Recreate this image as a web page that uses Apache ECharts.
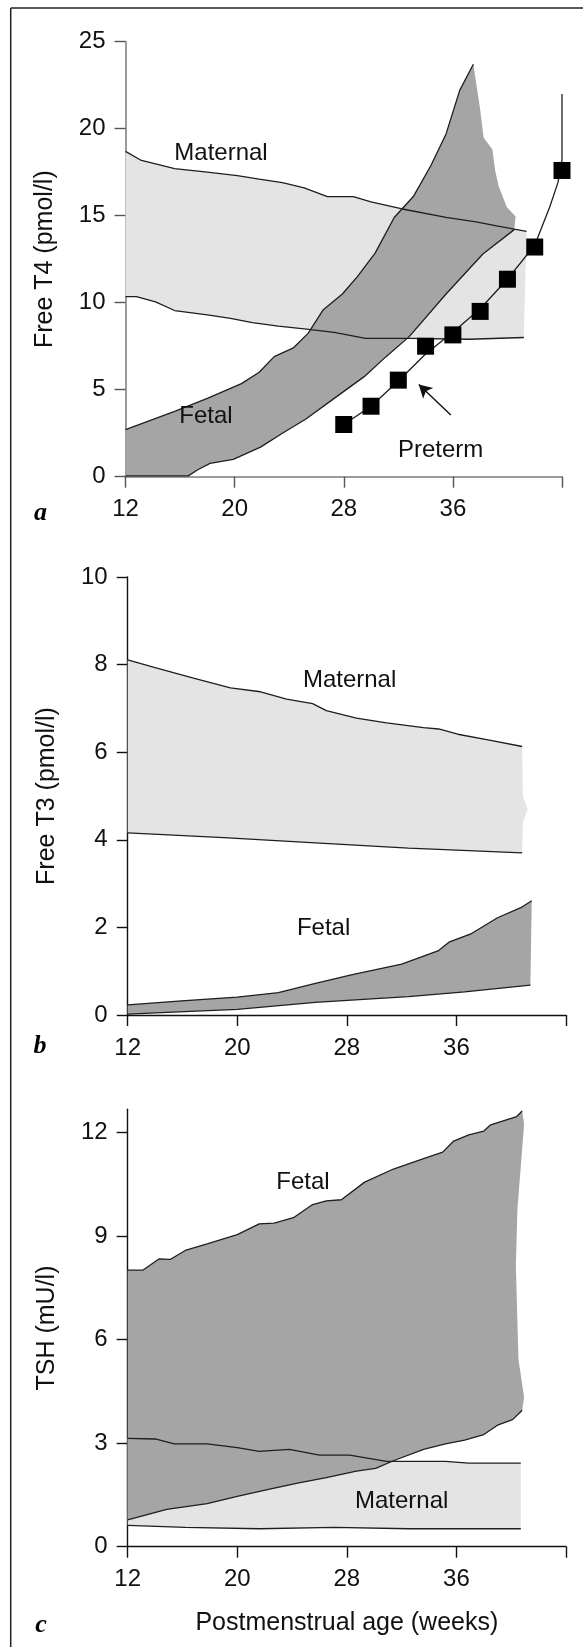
<!DOCTYPE html>
<html><head><meta charset="utf-8">
<script src="https://cdn.jsdelivr.net/npm/echarts@6/dist/echarts.min.js"></script>
<style>html,body{margin:0;padding:0;background:#fff}#c{width:583px;height:1647px}</style>
</head><body><div id="c"></div>
<script>
// ---------- Panel a: Free T4 (pmol/l) ----------
const ft4MaternalUpper = [[12,18.7],[13.1,18.2],[15.6,17.7],[18,17.5],[20.2,17.3],[21.8,17.1],[23.5,16.9],[25.1,16.6],[26.8,16.1],[28.7,16.1],[30,15.8],[32.2,15.4],[35.5,14.9],[37.7,14.65],[39.3,14.4],[41.4,14.1]];
const ft4MaternalLower = [[12,10.35],[12.8,10.35],[14.2,10.05],[15.6,9.55],[18,9.3],[19.7,9.1],[21.3,8.85],[23.2,8.65],[25.1,8.5],[27.3,8.3],[29.6,7.95],[32.8,7.95],[37.2,7.9],[41.2,8.0]];
const ft4FetalUpper = [[12,2.7],[15.6,3.75],[18,4.5],[20.5,5.35],[21.8,6.0],[22.9,6.9],[24.3,7.4],[25.4,8.25],[26.5,9.6],[27.9,10.5],[29,11.5],[30.3,12.85],[31.7,14.9],[33.1,16.1],[34.4,17.9],[35.5,19.7],[36.5,22.2],[37.5,23.7]];
const ft4FetalEdge = [[38.0,21.1],[38.25,19.5],[38.9,18.8],[39.1,17.6],[39.35,16.7],[39.95,15.5],[40.6,14.95]];
const ft4FetalLower = [[12,0.05],[16.6,0.05],[17.3,0.4],[18.2,0.77],[19.9,1.0],[21.9,1.7],[23.5,2.5],[25.2,3.3],[27.3,4.5],[29.5,5.75],[31.1,6.9],[32.8,8.05],[35.5,10.5],[38.2,12.8],[40.5,14.2]];
const pretermWeeks = [28,30,32,34,36,38,40,42,44];
const pretermFT4 = [3.0,4.05,5.55,7.5,8.15,9.5,11.35,13.2,17.6];
const pretermCurve = [[28,3.0],[30,4.05],[32,5.5],[34,7.05],[36,8.3],[38,9.65],[40,11.35],[42,13.3],[43.1,15.5],[43.7,16.9],[44,18.2],[44,22.0]];
const arrowPreterm = [[35.85,3.55],[33.5,5.3]];
const labelsA = [[19.0,18.6,'Maternal'],[17.9,3.45,'Fetal'],[35.1,1.5,'Preterm']];

// ---------- Panel b: Free T3 (pmol/l) ----------
const t3MaternalUpper = [[12,8.11],[14,7.93],[16.8,7.69],[19.5,7.47],[21.7,7.38],[23.6,7.21],[25.5,7.11],[26.5,6.95],[28.7,6.78],[30.9,6.67],[33.6,6.56],[34.7,6.53],[36.1,6.41],[38.5,6.27],[40.8,6.13]];
const t3MaternalEdge = [[40.85,5.0],[41.2,4.7],[40.85,4.4]];
const t3MaternalLower = [[12,4.16],[19,4.05],[25.7,3.93],[32.5,3.81],[40.8,3.70]];
const t3FetalUpper = [[12,0.23],[16.2,0.33],[20,0.41],[23,0.51],[25.7,0.72],[28.4,0.92],[32,1.16],[34.7,1.47],[35.5,1.67],[37.1,1.86],[39,2.22],[40.7,2.45],[41.5,2.61]];
const t3FetalLower = [[12,0.02],[14.9,0.06],[20,0.13],[25.7,0.29],[29.8,0.37],[32.5,0.42],[36.6,0.53],[41.4,0.68]];
const labelsB = [[28.2,7.63,'Maternal'],[26.3,1.97,'Fetal']];

// ---------- Panel c: TSH (mU/l) ----------
const tshFetalUpper = [[12,8.01],[13.1,8.01],[14.3,8.34],[15.1,8.32],[16.2,8.58],[17.8,8.77],[20,9.04],[21.6,9.35],[22.7,9.37],[24.1,9.53],[25.5,9.91],[26.5,10.02],[27.6,10.05],[29.3,10.56],[31.4,10.94],[33.6,11.24],[35,11.43],[35.8,11.75],[36.9,11.93],[38,12.04],[38.5,12.22],[40.4,12.46],[40.8,12.62]];
const tshFetalEdge = [[40.94,12.24],[40.45,9.75],[40.34,8.12],[40.53,5.42],[40.94,4.33]];
const tshFetalLower = [[12,0.78],[14.85,1.08],[17.8,1.25],[20,1.46],[22.2,1.65],[24.4,1.84],[26.5,2.0],[28.7,2.19],[30.1,2.27],[31.4,2.49],[33.6,2.82],[35.2,2.98],[36.6,3.09],[38,3.25],[39,3.52],[40.1,3.68],[40.8,3.95]];
const tshMaternalUpper = [[12,3.14],[14,3.12],[15.4,2.98],[17.8,2.98],[20,2.87],[21.6,2.76],[23.8,2.82],[26,2.65],[28.2,2.65],[30.9,2.47],[32.5,2.47],[35.2,2.47],[36.9,2.42],[40.7,2.42]];
const tshMaternalLower = [[12,0.62],[16.2,0.56],[21.6,0.52],[27.1,0.56],[32.5,0.52],[40.7,0.52]];
const labelsC = [[24.8,10.56,'Fetal'],[32.0,1.3,'Maternal']];

// ---------- Axes ticks ----------
const xTicks = [12,20,28,36,44];
const xTickLabels = ['12','20','28','36',''];
const tshTicks = [0,3,6,9,12];

const FONT = '"Liberation Sans", Arial, Helvetica, sans-serif';
const LIGHT = '#e4e4e4', DARK = '#a5a5a5', STROKE = '#1e1e1e', TEXT = '#111';

function xAxisCfg(gi, grey, extra) {
  return Object.assign({
    type:'value', gridIndex:gi, min:12, max:44, interval:8,
    axisLine:{show:true, onZero:false, lineStyle:{color: grey?'#9b9b9b':'#111', width: grey?2:1.4}},
    axisTick:{show:true, length:11, lineStyle:{color: grey?'#555':'#111', width:1.4}},
    axisLabel:{show:true, margin:21, fontSize:24, fontFamily:FONT, color:TEXT,
      formatter: v => xTickLabels[xTicks.indexOf(v)] || ''},
    splitLine:{show:false}
  }, extra||{});
}
function yAxisCfg(gi, grey, min, max, interval, name, extra) {
  return Object.assign({
    type:'value', gridIndex:gi, min, max, interval, name,
    nameLocation:'middle', nameGap:68, nameTextStyle:{fontSize:25, fontFamily:FONT, color:TEXT},
    axisLine:{show:true, onZero:false, lineStyle:{color: grey?'#9b9b9b':'#111', width: grey?2:1.4}},
    axisTick:{show:true, length:11, lineStyle:{color: grey?'#555':'#111', width:1.4}},
    axisLabel:{show:true, margin:20, fontSize:24, fontFamily:FONT, color:TEXT},
    splitLine:{show:false}
  }, extra||{});
}
function band(gi, upper, edge, lower, color) {
  return {
    type:'custom', xAxisIndex:gi, yAxisIndex:gi, silent:true, animation:false, z:2,
    data:[upper[0]],
    renderItem:(params, api) => {
      const pts = upper.concat(edge || [], lower.slice().reverse()).map(p => api.coord(p));
      return {type:'polygon', shape:{points:pts}, style:{fill:color, stroke:null}};
    }
  };
}
function stroke(gi, data) {
  return {type:'line', xAxisIndex:gi, yAxisIndex:gi, data, symbol:'none', showSymbol:false,
    silent:true, animation:false, z:5, lineStyle:{color:STROKE, width:1.3, opacity:1}};
}
function texts(gi, items) {
  return {type:'scatter', xAxisIndex:gi, yAxisIndex:gi, symbolSize:1, silent:true, animation:false, z:10,
    itemStyle:{color:'rgba(0,0,0,0)', opacity:1},
    data: items.map(d => ({value:[d[0], d[1]], name:d[2]})),
    label:{show:true, position:'inside', formatter:'{b}', fontSize:24, fontFamily:FONT, color:TEXT,
      opacity:1, textBorderWidth:0}};
}

const option = {
  animation:false,
  backgroundColor:'#fff',
  grid:[
    {left:125.5, top:41.7, width:436.5, height:435},
    {left:127.7, top:577, width:438.3, height:438},
    {left:127.7, top:1109.3, width:438.3, height:437.4}
  ],
  xAxis:[
    xAxisCfg(0, true),
    xAxisCfg(1, false),
    xAxisCfg(2, false, {name:'Postmenstrual age (weeks)', nameLocation:'middle', nameGap:64,
      nameTextStyle:{fontSize:25, fontFamily:FONT, color:TEXT}})
  ],
  yAxis:[
    yAxisCfg(0, true, 0, 25, 5, 'Free T4 (pmol/l)'),
    yAxisCfg(1, false, 0, 10, 2, 'Free T3 (pmol/l)'),
    yAxisCfg(2, false, 0, 12.67, 3, 'TSH (mU/l)', {
      axisTick:{show:true, length:11, customValues:tshTicks, lineStyle:{color:'#111', width:1.4}},
      axisLabel:{show:true, margin:20, fontSize:24, fontFamily:FONT, color:TEXT, customValues:tshTicks}
    })
  ],
  series:[
    // panel a
    band(0, ft4MaternalUpper, null, ft4MaternalLower, LIGHT),
    band(0, ft4FetalUpper, ft4FetalEdge, ft4FetalLower, DARK),
    stroke(0, ft4MaternalUpper), stroke(0, ft4MaternalLower),
    stroke(0, ft4FetalUpper), stroke(0, ft4FetalLower),
    stroke(0, pretermCurve),
    {type:'scatter', xAxisIndex:0, yAxisIndex:0, symbol:'rect', symbolSize:17, silent:true, animation:false, z:8,
      itemStyle:{color:'#000', opacity:1},
      data: pretermWeeks.map((w,i) => [w, pretermFT4[i]]),
      markLine:{silent:true, animation:false, symbol:['none','arrow'], symbolSize:[11,13],
        lineStyle:{color:'#111', width:1.4, type:'solid', opacity:1}, itemStyle:{opacity:1}, label:{show:false},
        data:[[{coord:arrowPreterm[0]},{coord:arrowPreterm[1]}]]}},
    texts(0, labelsA),
    // panel b
    band(1, t3MaternalUpper, t3MaternalEdge, t3MaternalLower, LIGHT),
    band(1, t3FetalUpper, null, t3FetalLower, DARK),
    stroke(1, t3MaternalUpper), stroke(1, t3MaternalLower),
    stroke(1, t3FetalUpper), stroke(1, t3FetalLower),
    texts(1, labelsB),
    // panel c
    band(2, tshMaternalUpper, null, tshMaternalLower, LIGHT),
    band(2, tshFetalUpper, tshFetalEdge, tshFetalLower, DARK),
    stroke(2, tshMaternalUpper), stroke(2, tshMaternalLower),
    stroke(2, tshFetalUpper), stroke(2, tshFetalLower),
    texts(2, labelsC)
  ],
  graphic:[
    {type:'line', shape:{x1:10.7, y1:8, x2:583, y2:8}, style:{stroke:'#222', lineWidth:1.5}, silent:true},
    {type:'line', shape:{x1:10.7, y1:8, x2:10.7, y2:1647}, style:{stroke:'#222', lineWidth:1.5}, silent:true},
    {type:'text', x:40.5, y:513, style:{text:'a', font:'italic bold 26px "Liberation Serif", serif', fill:'#000', textAlign:'center', textVerticalAlign:'middle'}, silent:true},
    {type:'text', x:40, y:1046, style:{text:'b', font:'italic bold 26px "Liberation Serif", serif', fill:'#000', textAlign:'center', textVerticalAlign:'middle'}, silent:true},
    {type:'text', x:41, y:1625, style:{text:'c', font:'italic bold 26px "Liberation Serif", serif', fill:'#000', textAlign:'center', textVerticalAlign:'middle'}, silent:true}
  ]
};
const chart = echarts.init(document.getElementById('c'));
chart.setOption(option);
</script>
</body></html>
